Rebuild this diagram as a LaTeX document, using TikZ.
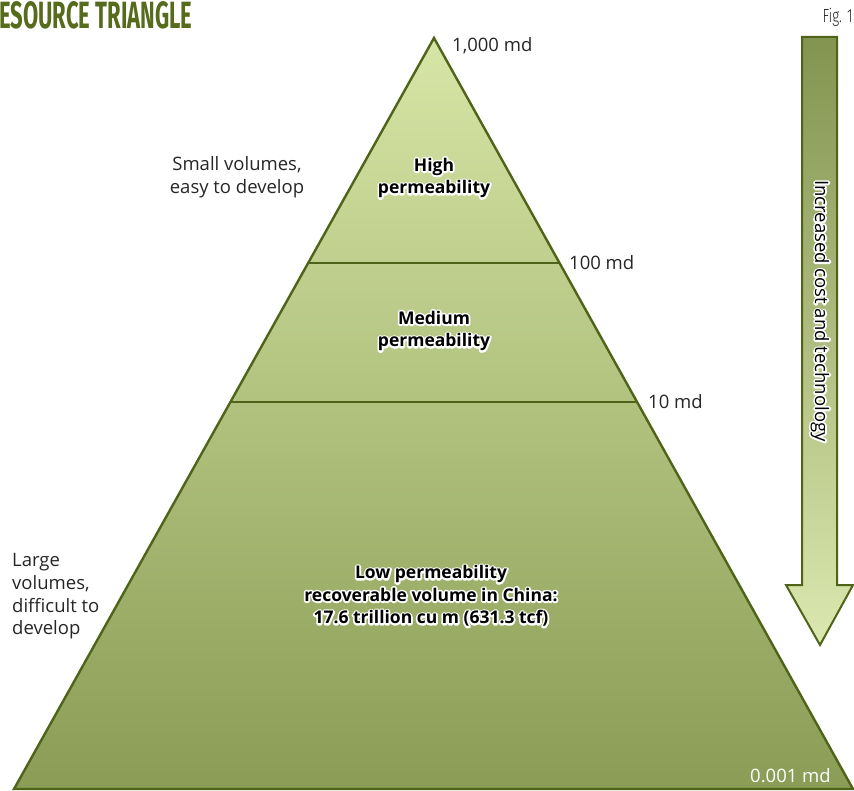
\documentclass[tikz,border=0pt]{standalone}
\usepackage{fontspec}
\setmainfont{Open Sans}
\newfontfamily\titlefont[FakeStretch=0.58]{Fira Sans}
\newfontfamily\figfont[FakeStretch=0.72]{Fira Sans Light}
\usetikzlibrary{calc}
\definecolor{olive}{HTML}{566B1C}
\definecolor{edge}{HTML}{4F6418}
\definecolor{paletop}{HTML}{D7E5A6}
\definecolor{darkbot}{HTML}{8A9C55}
\definecolor{labelgray}{HTML}{262626}
\tikzset{
  outline/.style={draw=edge, line width=2.4pt, line join=miter},
  divider/.style={draw=edge, line width=2.2pt},
  sidelabel/.style={font=\fontsize{18.5}{22.8}\selectfont, text=labelgray, inner sep=0pt},
  zonelabel/.style={font=\fontsize{17.5}{22.5}\selectfont\bfseries, text=black, align=center, inner sep=0pt},
}
% white stroked halo behind a line of text, then the filled text on top
\newcommand{\halo}[1]{\leavevmode\rlap{\special{pdf:literal direct 1 Tr 3.6 w 1 j 1 1 1 RG}#1\special{pdf:literal direct 0 Tr}}#1}
\begin{document}
\begin{tikzpicture}[x=1pt,y=-1pt]
\useasboundingbox (0,0) rectangle (854,791);

% pyramid corners
\coordinate (apex) at (434,38);
\coordinate (bl) at (14,789);
\coordinate (br) at (853,789);

% pyramid body with vertical gradient
\shade[top color=paletop, bottom color=darkbot] (apex) -- (bl) -- (br) -- cycle;
\draw[outline] (apex) -- (bl) -- (br) -- cycle;

% boundaries between permeability classes
\coordinate (d1l) at ($(apex)!0.2996!(bl)$);
\coordinate (d1r) at ($(apex)!0.2996!(br)$);
\coordinate (d2l) at ($(apex)!0.4847!(bl)$);
\coordinate (d2r) at ($(apex)!0.4847!(br)$);
\draw[divider] (d1l) -- (d1r);
\draw[divider] (d2l) -- (d2r);

% downward arrow: cost and technology
\coordinate (a1) at (802,37);
\coordinate (a2) at (837,37);
\coordinate (a3) at (837,585);
\coordinate (a4) at (853,585);
\coordinate (atip) at (820,645);
\coordinate (a6) at (786,585);
\coordinate (a7) at (802,585);
\shade[top color=darkbot!95!black, bottom color=paletop!90!white] (a1) -- (a2) -- (a3) -- (a4) -- (atip) -- (a6) -- (a7) -- cycle;
\draw[outline, line width=2pt] (a1) -- (a2) -- (a3) -- (a4) -- (atip) -- (a6) -- (a7) -- cycle;
\node[font=\fontsize{18.5}{18.5}\selectfont, text=black, rotate=-90, inner sep=0pt] (arrowtext) at (820,311) {\halo{Increased cost and technology}};

% title and figure number
\node[anchor=north west, inner sep=0pt, text=olive, font=\titlefont\fontsize{38}{38}\selectfont\bfseries] (title) at (-1,1) {ESOURCE TRIANGLE};
\node[anchor=north east, inner sep=0pt, text=labelgray, font=\figfont\fontsize{19}{19}\selectfont] (fig) at (853,8) {Fig. 1};

% permeability values along the flank
\node[sidelabel, anchor=west] (k1000) at (452,46) {1,000 md};
\node[sidelabel, anchor=west] (k100) at (569,263) {100 md};
\node[sidelabel, anchor=west] (k10) at (648,402) {10 md};
\node[sidelabel, anchor=west, text=white] (k0001) at (750,776) {0.001 md};

% volume notes on the left
\node[sidelabel, align=center] (small) at (237,177) {Small volumes,\\easy to develop};
\node[sidelabel, align=left, anchor=north west] (large) at (12,553) {Large\\volumes,\\difficult to\\develop};

% class names inside the pyramid
\node[zonelabel] (high) at (434,178) {\halo{High}\\\halo{permeability}};
\node[zonelabel] (medium) at (434,331) {\halo{Medium}\\\halo{permeability}};
\node[zonelabel] (low) at (431,596) {\halo{Low permeability}\\\halo{recoverable volume in China:}\\\halo{17.6 trillion cu m (631.3 tcf)}};
\end{tikzpicture}
\end{document}
